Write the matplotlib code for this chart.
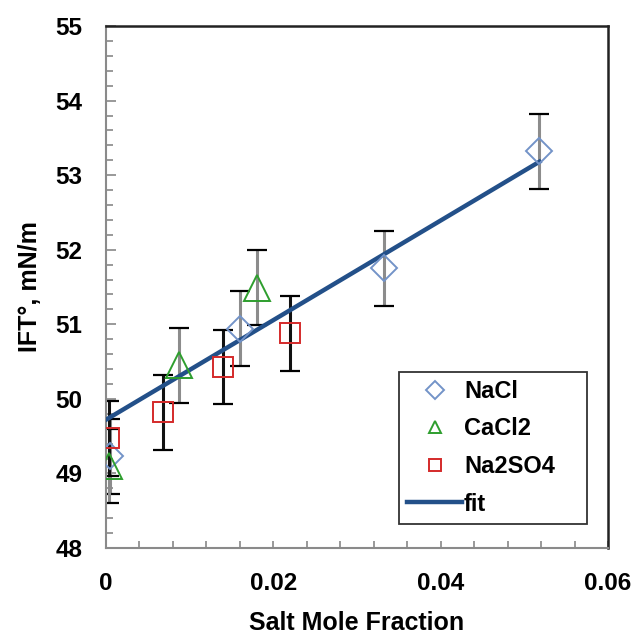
import numpy as np
import matplotlib.pyplot as plt
from matplotlib.ticker import MultipleLocator

plt.rcParams['font.family'] = ['Liberation Sans', 'DejaVu Sans']
plt.rcParams['font.weight'] = 'bold'

# data
nacl_x = [0.0005, 0.0160, 0.0332, 0.0518]
nacl_y = [49.23, 50.94, 51.75, 53.32]
cacl2_x = [0.0004, 0.0087, 0.0180]
cacl2_y = [49.10, 50.45, 51.49]
na2so4_x = [0.0004, 0.0068, 0.0140, 0.0220]
na2so4_y = [49.47, 49.82, 50.43, 50.88]
err = 0.5
fit_x = [0.0, 0.0518]
fit_y = [49.72, 53.18]

fig = plt.figure(figsize=(6.39, 6.38), dpi=100)
ax = fig.add_axes([0.1659, 0.1411, 0.7856, 0.8181])

def series(x, y, marker, ms, color, ecolor, label):
    eb = ax.errorbar(x, y, yerr=err, fmt='none', ecolor=ecolor, elinewidth=2.2,
                     capsize=7, capthick=1.6, zorder=2)
    for cl in eb[1]:
        cl.set_markeredgecolor('black')
        cl.set_color('black')
    ax.plot(x, y, linestyle='none', marker=marker, ms=ms, mfc='none',
            mec=color, mew=1.4, label=label, zorder=4)

series(nacl_x, nacl_y, 'D', 13, '#7393C8', '#8c8c8c', 'NaCl')
series(cacl2_x, cacl2_y, '^', 19, '#2E9E2E', '#8c8c8c', 'CaCl2')
series(na2so4_x, na2so4_y, 's', 15, '#D42A2A', '#111111', 'Na2SO4')
ax.plot(fit_x, fit_y, color='#235089', lw=3.2, label='fit', zorder=3)

ax.set_xlim(0, 0.06)
ax.set_ylim(48, 55)
ax.set_xticks([0, 0.02, 0.04, 0.06])
ax.set_xticklabels(['0', '0.02', '0.04', '0.06'])
ax.xaxis.set_minor_locator(MultipleLocator(0.004))
ax.yaxis.set_major_locator(MultipleLocator(1))
ax.yaxis.set_minor_locator(MultipleLocator(0.2))

ax.tick_params(which='both', direction='in', colors='#888888', labelcolor='black',
               labelsize=17.5)
ax.tick_params(axis='y', which='major', length=7, width=1.2, pad=17)
ax.tick_params(axis='y', which='minor', length=5, width=1.2)
ax.tick_params(axis='x', which='major', length=5, width=1.2, pad=17)
ax.tick_params(axis='x', which='minor', length=5, width=1.2)
for lab in ax.get_xticklabels() + ax.get_yticklabels():
    lab.set_fontweight('bold')

for s in ['left', 'bottom']:
    ax.spines[s].set_color('#8a8a8a')
    ax.spines[s].set_linewidth(1.5)
for s in ['top', 'right']:
    ax.spines[s].set_color('#222222')
    ax.spines[s].set_linewidth(1.8)

ax.set_xlabel('Salt Mole Fraction', fontsize=18, fontweight='bold', labelpad=12)
ax.set_ylabel('IFT°, mN/m', fontsize=18, fontweight='bold', labelpad=10)

leg = ax.legend(loc='lower left', bbox_to_anchor=(0.584, 0.046, 0.374, 0.3),
                mode='expand', fontsize=17, frameon=True, fancybox=False,
                edgecolor='black', borderpad=0.35, labelspacing=0.62,
                handlelength=2.3, handletextpad=0.1, borderaxespad=0)
leg.get_frame().set_linewidth(1.3)
for t in leg.get_texts():
    t.set_fontweight('bold')
for h in leg.legend_handles[:3]:
    h.set_markersize(9)

fig.savefig('out.png', dpi=100)
